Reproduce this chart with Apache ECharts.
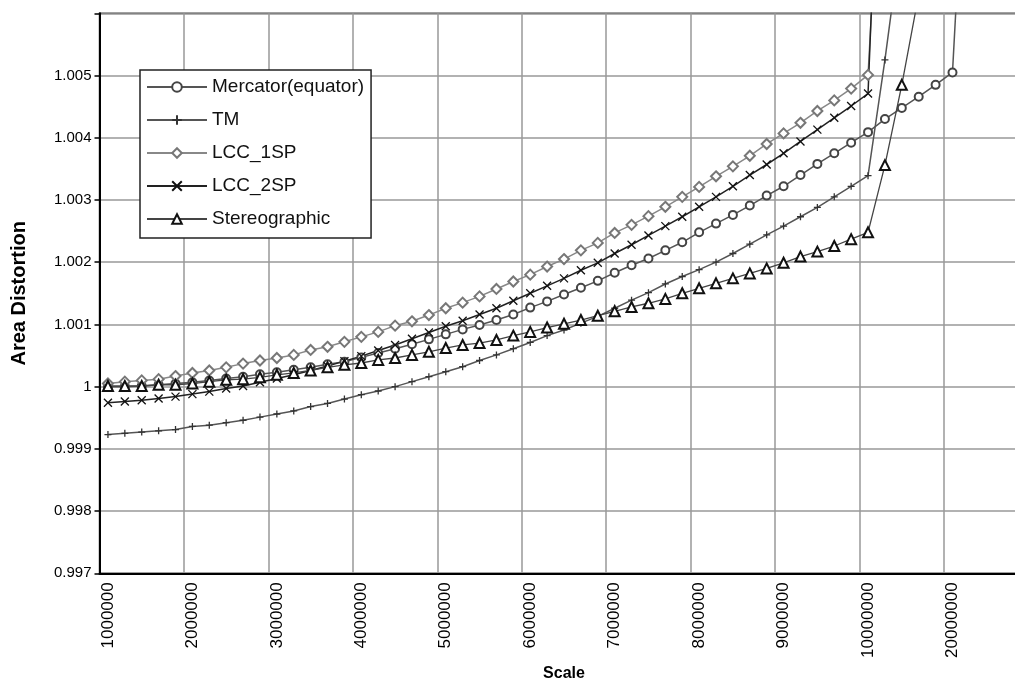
<!DOCTYPE html>
<html>
<head>
    <meta charset="utf-8">
    <title>Area Distortion</title>
    <script src="https://cdn.jsdelivr.net/npm/echarts/dist/echarts.min.js"></script>
    <style>
        body { margin: 0; background: #fff; }
    </style>
</head>
<body>
    <div id="main" style="width: 1015px;height:691px;"></div>

    <script type="text/javascript">
        // categories (scale), label shown every 5th
        var scales = ['1000000', '1200000', '1400000', '1600000', '1800000',
            '2000000', '2200000', '2400000', '2600000', '2800000',
            '3000000', '3200000', '3400000', '3600000', '3800000',
            '4000000', '4200000', '4400000', '4600000', '4800000',
            '5000000', '5200000', '5400000', '5600000', '5800000',
            '6000000', '6200000', '6400000', '6600000', '6800000',
            '7000000', '7200000', '7400000', '7600000', '7800000',
            '8000000', '8200000', '8400000', '8600000', '8800000',
            '9000000', '9200000', '9400000', '9600000', '9800000',
            '10000000', '12000000', '14000000', '16000000', '18000000',
            '20000000', '30000000', '40000000', '50000000', '60000000'];

        var mercator = [1.00000, 1.00000, 1.00001, 1.00003, 1.00005,
            1.00007, 1.00010, 1.00013, 1.00016, 1.00020,
            1.00023, 1.00027, 1.00031, 1.00036, 1.00040,
            1.00047, 1.00054, 1.00061, 1.00068, 1.00076,
            1.00084, 1.00092, 1.00099, 1.00107, 1.00116,
            1.00127, 1.00137, 1.00148, 1.00159, 1.00170,
            1.00183, 1.00195, 1.00206, 1.00219, 1.00232,
            1.00248, 1.00262, 1.00276, 1.00291, 1.00307,
            1.00322, 1.00340, 1.00358, 1.00375, 1.00392,
            1.00409, 1.00430, 1.00448, 1.00466, 1.00485,
            1.00505, 1.01010];

        var tm = [0.99923, 0.99925, 0.99927, 0.99929, 0.99931,
            0.99936, 0.99938, 0.99942, 0.99946, 0.99951,
            0.99956, 0.99961, 0.99968, 0.99973, 0.99980,
            0.99987, 0.99993, 1.00000, 1.00008, 1.00016,
            1.00024, 1.00032, 1.00042, 1.00051, 1.00061,
            1.00071, 1.00082, 1.00091, 1.00102, 1.00113,
            1.00126, 1.00139, 1.00151, 1.00165, 1.00177,
            1.00188, 1.00200, 1.00214, 1.00229, 1.00244,
            1.00258, 1.00273, 1.00288, 1.00305, 1.00322,
            1.00339, 1.00525, 1.00730];

        var lcc1sp = [1.00005, 1.00008, 1.00010, 1.00012, 1.00017,
            1.00022, 1.00026, 1.00031, 1.00037, 1.00042,
            1.00046, 1.00051, 1.00059, 1.00064, 1.00072,
            1.00080, 1.00088, 1.00098, 1.00105, 1.00115,
            1.00126, 1.00135, 1.00145, 1.00157, 1.00169,
            1.00180, 1.00193, 1.00205, 1.00219, 1.00231,
            1.00247, 1.00260, 1.00274, 1.00289, 1.00305,
            1.00321, 1.00338, 1.00354, 1.00371, 1.00390,
            1.00407, 1.00424, 1.00443, 1.00460, 1.00479,
            1.00501, 1.01000];

        var lcc2sp = [0.99974, 0.99976, 0.99978, 0.99981, 0.99984,
            0.99988, 0.99992, 0.99997, 1.00001, 1.00007,
            1.00013, 1.00019, 1.00026, 1.00033, 1.00041,
            1.00049, 1.00058, 1.00067, 1.00077, 1.00087,
            1.00097, 1.00106, 1.00116, 1.00126, 1.00138,
            1.00150, 1.00162, 1.00174, 1.00187, 1.00199,
            1.00214, 1.00228, 1.00243, 1.00258, 1.00273,
            1.00289, 1.00305, 1.00322, 1.00340, 1.00357,
            1.00375, 1.00394, 1.00413, 1.00432, 1.00451,
            1.00471, 1.01150];

        var stereo = [1.00001, 1.00001, 1.00001, 1.00003, 1.00003,
            1.00005, 1.00008, 1.00011, 1.00012, 1.00015,
            1.00019, 1.00022, 1.00026, 1.00031, 1.00035,
            1.00038, 1.00043, 1.00046, 1.00051, 1.00056,
            1.00062, 1.00067, 1.00070, 1.00075, 1.00082,
            1.00088, 1.00095, 1.00101, 1.00107, 1.00114,
            1.00121, 1.00128, 1.00134, 1.00141, 1.00150,
            1.00158, 1.00166, 1.00174, 1.00182, 1.00190,
            1.00199, 1.00209, 1.00217, 1.00226, 1.00237,
            1.00248, 1.00356, 1.00485, 1.00630];

        var font = "'Liberation Sans', Arial, sans-serif";
        var plusPath = 'path://M0,5 L10,5 M5,0 L5,10';
        var crossPath = 'path://M0,0 L10,10 M10,0 L0,10';

        var myChart = echarts.init(document.getElementById('main'));

        var option = {
            animation: false,
            backgroundColor: '#fff',
            textStyle: { fontFamily: font, color: '#000' },
            grid: {
                left: 99.5,
                top: 13.3,
                width: 929,
                height: 560,
                outerBoundsMode: 'none',
                containLabel: false,
                show: true,
                borderColor: '#444',
                borderWidth: 1.5
            },
            legend: {
                orient: 'vertical',
                left: 140,
                top: 70,
                padding: [7, 7, 9, 6],
                itemWidth: 60,
                itemHeight: 12,
                itemGap: 13,
                backgroundColor: '#fff',
                borderColor: '#222',
                borderWidth: 1.5,
                borderRadius: 0,
                textStyle: { fontFamily: font, fontSize: 19, lineHeight: 20, color: '#111' },
                data: ['Mercator(equator)', 'TM', 'LCC_1SP', 'LCC_2SP', 'Stereographic']
            },
            xAxis: {
                type: 'category',
                data: scales,
                boundaryGap: true,
                name: 'Scale',
                nameLocation: 'middle',
                nameGap: 92,
                nameTextStyle: { fontFamily: font, fontSize: 16, fontWeight: 'bold', color: '#000' },
                axisLine: { lineStyle: { color: '#000', width: 2 } },
                axisTick: { interval: 4, length: 5, lineStyle: { color: '#000', width: 1.5 } },
                axisLabel: { interval: 4, rotate: 90, margin: 9, fontSize: 17, color: '#000', fontFamily: font },
                splitLine: { show: true, interval: 4, lineStyle: { color: '#999', width: 1.5 } }
            },
            yAxis: {
                type: 'value',
                min: 0.997,
                max: 1.006,
                interval: 0.001,
                name: 'Area Distortion',
                nameLocation: 'middle',
                nameGap: 70,
                nameTextStyle: { fontFamily: font, fontSize: 20, fontWeight: 'bold', color: '#000' },
                axisLine: { show: true, lineStyle: { color: '#000', width: 2 } },
                axisTick: { show: true, length: 5, lineStyle: { color: '#000', width: 1.5 } },
                axisLabel: {
                    fontSize: 15, color: '#000', margin: 8, fontFamily: font,
                    formatter: function (v) {
                        if (v > 1.0055) return '';
                        return String(+v.toFixed(3));
                    }
                },
                splitLine: { show: true, lineStyle: { color: '#999', width: 1.5 } }
            },
            series: [
                {
                    name: 'Mercator(equator)',
                    type: 'line',
                    data: mercator,
                    symbol: 'emptyCircle',
                    symbolSize: 8,
                    showAllSymbol: true,
                    itemStyle: { color: '#444', borderColor: '#444', borderWidth: 1.2 },
                    lineStyle: { color: '#555', width: 1.5 }
                },
                {
                    name: 'TM',
                    type: 'line',
                    data: tm,
                    symbol: plusPath,
                    symbolSize: 7,
                    showAllSymbol: true,
                    itemStyle: { color: '#fff', borderColor: '#333', borderWidth: 1.3 },
                    lineStyle: { color: '#555', width: 1.5 }
                },
                {
                    name: 'LCC_1SP',
                    type: 'line',
                    data: lcc1sp,
                    symbol: 'emptyDiamond',
                    symbolSize: 10,
                    showAllSymbol: true,
                    itemStyle: { color: '#777', borderColor: '#777', borderWidth: 1.2 },
                    lineStyle: { color: '#888', width: 1.5 }
                },
                {
                    name: 'LCC_2SP',
                    type: 'line',
                    data: lcc2sp,
                    symbol: crossPath,
                    symbolSize: 8,
                    showAllSymbol: true,
                    itemStyle: { color: '#fff', borderColor: '#111', borderWidth: 1.3 },
                    lineStyle: { color: '#222', width: 1.5 }
                },
                {
                    name: 'Stereographic',
                    type: 'line',
                    data: stereo,
                    symbol: 'emptyTriangle',
                    symbolSize: 10,
                    showAllSymbol: true,
                    itemStyle: { color: '#111', borderColor: '#111', borderWidth: 1.5 },
                    lineStyle: { color: '#444', width: 1.3 }
                }
            ]
        };

        myChart.setOption(option);
    </script>
</body>
</html>
